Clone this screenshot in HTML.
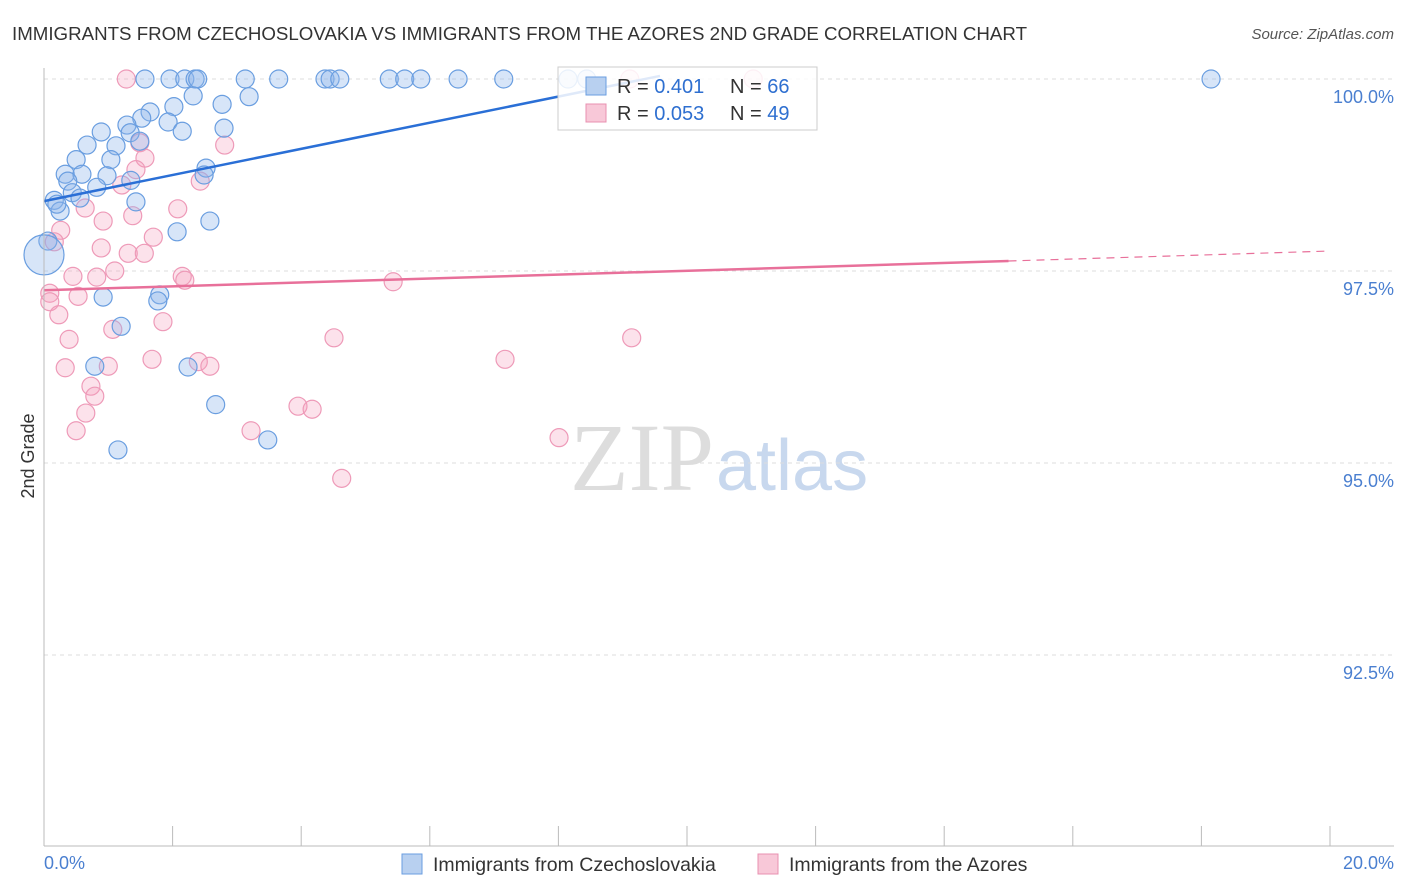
<!DOCTYPE html>
<html><head><meta charset="utf-8"><style>
body{margin:0;background:#fff;font-family:"Liberation Sans",sans-serif}
#c{position:relative;width:1406px;height:892px;overflow:hidden}
</style></head><body>
<div id="c">
<svg id="s" width="1406" height="892" style="position:absolute;left:0;top:0">
<text x="12" y="40" font-size="18" fill="#333" textLength="1015" lengthAdjust="spacingAndGlyphs">IMMIGRANTS FROM CZECHOSLOVAKIA VS IMMIGRANTS FROM THE AZORES 2ND GRADE CORRELATION CHART</text>
<text x="1394" y="39" font-size="15" fill="#555" text-anchor="end" font-style="italic">Source: ZipAtlas.com</text>
<text x="0" y="0" transform="translate(34,456) rotate(-90)" font-size="18" fill="#333" text-anchor="middle">2nd Grade</text>
<text x="714" y="490" font-size="96" fill="#ddd" text-anchor="end" font-family="Liberation Serif">ZIP</text>
<text x="716" y="490" font-size="72" fill="#c8d8ee">atlas</text>
<g id="grid"></g><g id="pts"></g><g id="lines"></g>
<line x1="44" y1="68" x2="44" y2="846" stroke="#bbb"/>
<line x1="44" y1="846" x2="1394" y2="846" stroke="#bbb"/>
<g id="ticks"></g>
<rect x="558" y="67" width="259" height="63" fill="#fff" fill-opacity="0.85" stroke="#ccc"/>
<rect x="586" y="77" width="20" height="18" fill="#b8d0f0" stroke="#6a9ee0"/>
<rect x="586" y="104" width="20" height="18" fill="#f8c8d8" stroke="#e890b0"/>
<text x="617" y="93" font-size="20" fill="#333">R = <tspan fill="#2e6fd0">0.401</tspan></text>
<text x="730" y="93" font-size="20" fill="#333">N = <tspan fill="#2e6fd0">66</tspan></text>
<text x="617" y="120" font-size="20" fill="#333">R = <tspan fill="#2e6fd0">0.053</tspan></text>
<text x="730" y="120" font-size="20" fill="#333">N = <tspan fill="#2e6fd0">49</tspan></text>
<text x="44" y="869" font-size="18" fill="#4a7fd0">0.0%</text>
<text x="1394" y="869" font-size="18" fill="#4a7fd0" text-anchor="end">20.0%</text>
<rect x="402" y="854" width="20" height="20" fill="#b8d0f0" stroke="#6a9ee0"/>
<text x="433" y="871" font-size="19.5" fill="#333">Immigrants from Czechoslovakia</text>
<rect x="758" y="854" width="20" height="20" fill="#f8c8d8" stroke="#e890b0"/>
<text x="789" y="871" font-size="19.5" fill="#333">Immigrants from the Azores</text>
</svg></div>
<script>
const yTicks=[100,97.5,95,92.5];
const yTickLabels=["100.0%","97.5%","95.0%","92.5%"];
const blueX=[1.57,1.96,2.19,2.35,2.39,3.13,3.65,4.37,4.45,4.60,5.37,5.61,5.86,6.44,7.15,8.15,8.44,18.15,2.32,3.19,1.65,2.02,1.52,2.77,1.29,1.93,0.89,2.15,2.80,1.34,1.49,0.67,1.12,0.50,1.04,0.33,0.59,0.98,2.52,2.49,0.37,0.82,1.35,0.44,0.16,0.56,1.43,0.25,0.20,2.58,2.07,0.06,0.92,1.80,1.77,1.20,0.79,2.24,2.67,1.15,3.48];
const blueY=[100,100,100,100,100,100,100,100,100,100,100,100,100,100,100,100,100,100,99.78,99.77,99.57,99.64,99.49,99.67,99.40,99.44,99.31,99.32,99.36,99.30,99.19,99.14,99.13,98.95,98.95,98.76,98.76,98.74,98.84,98.75,98.67,98.59,98.68,98.52,98.42,98.45,98.40,98.28,98.37,98.15,98.01,97.89,97.16,97.19,97.11,96.78,96.26,96.25,95.76,95.17,95.30];
const pinkX=[1.28,9.11,11.03,1.49,1.57,1.43,1.21,2.43,0.64,2.08,0.92,1.38,0.26,1.70,0.89,1.31,1.56,0.16,0.45,0.82,1.10,2.15,2.19,5.43,0.09,0.53,0.09,0.23,1.85,1.07,0.39,4.51,9.14,1.00,1.68,2.40,2.58,0.33,7.17,0.73,0.79,0.65,3.95,4.17,0.50,3.22,8.01,4.63,2.81];
const pinkY=[100,100,100,99.17,98.97,98.82,98.62,98.67,98.32,98.31,98.15,98.22,98.03,97.94,97.80,97.73,97.73,97.88,97.43,97.42,97.50,97.43,97.38,97.36,97.21,97.17,97.10,96.93,96.84,96.74,96.61,96.63,96.63,96.26,96.35,96.32,96.26,96.24,96.35,96.00,95.87,95.65,95.74,95.70,95.42,95.42,95.33,94.80,99.14];
const blueTrend=[0,98.41,9.58,100.04];
const pinkTrend=[0,97.25,15,97.63,20,97.76];
const NS="http://www.w3.org/2000/svg";
const X=v=>44+v/20*1286, Y=v=>79+(100-v)/2.5*192;
function mk(t,a,p){const e=document.createElementNS(NS,t);for(const k in a)e.setAttribute(k,a[k]);document.getElementById(p).appendChild(e);return e;}
yTicks.forEach((t,i)=>{
 const l=mk('line',{x1:44,x2:1394,y1:Y(t),y2:Y(t),stroke:'#ddd','stroke-dasharray':'4,4'},'grid');
 
 
 const tx=mk('text',{x:1394,y:Y(t)+24,'font-size':18,fill:'#4a7fd0','text-anchor':'end'},'ticks');
 tx.textContent=yTickLabels[i];
 
 
});
for(let i=1;i<=10;i++){const l=mk('line',{x1:X(i*2),x2:X(i*2),y1:826,y2:846,stroke:'#bbb'},'ticks');
 
 }
pinkX.forEach((x,i)=>{const c=mk('circle',{cx:X(x),cy:Y(pinkY[i]),r:9,fill:'rgba(244,160,190,0.3)',stroke:'#ee9ab8','stroke-width':1.2},'pts');
 
 });
blueX.forEach((x,i)=>{const c=mk('circle',{cx:X(x),cy:Y(blueY[i]),r:9,fill:'rgba(140,180,235,0.35)',stroke:'#6a9ee0','stroke-width':1.2},'pts');
 
 });
const big=mk('circle',{cx:X(0),cy:Y(97.71),r:20,fill:'rgba(140,180,235,0.35)',stroke:'#6a9ee0','stroke-width':1.2},'pts');


const bl=mk('line',{x1:X(blueTrend[0]),y1:Y(blueTrend[1]),x2:X(blueTrend[2]),y2:Y(blueTrend[3]),stroke:'#2a6fd6','stroke-width':2.5},'lines');


const pl=mk('line',{x1:X(pinkTrend[0]),y1:Y(pinkTrend[1]),x2:X(pinkTrend[2]),y2:Y(pinkTrend[3]),stroke:'#e8709a','stroke-width':2.5},'lines');


const pd=mk('line',{x1:X(pinkTrend[2]),y1:Y(pinkTrend[3]),x2:X(pinkTrend[4]),y2:Y(pinkTrend[5]),stroke:'#e8709a','stroke-width':1.2,'stroke-dasharray':'8,6'},'lines');


</script>
</body></html>
